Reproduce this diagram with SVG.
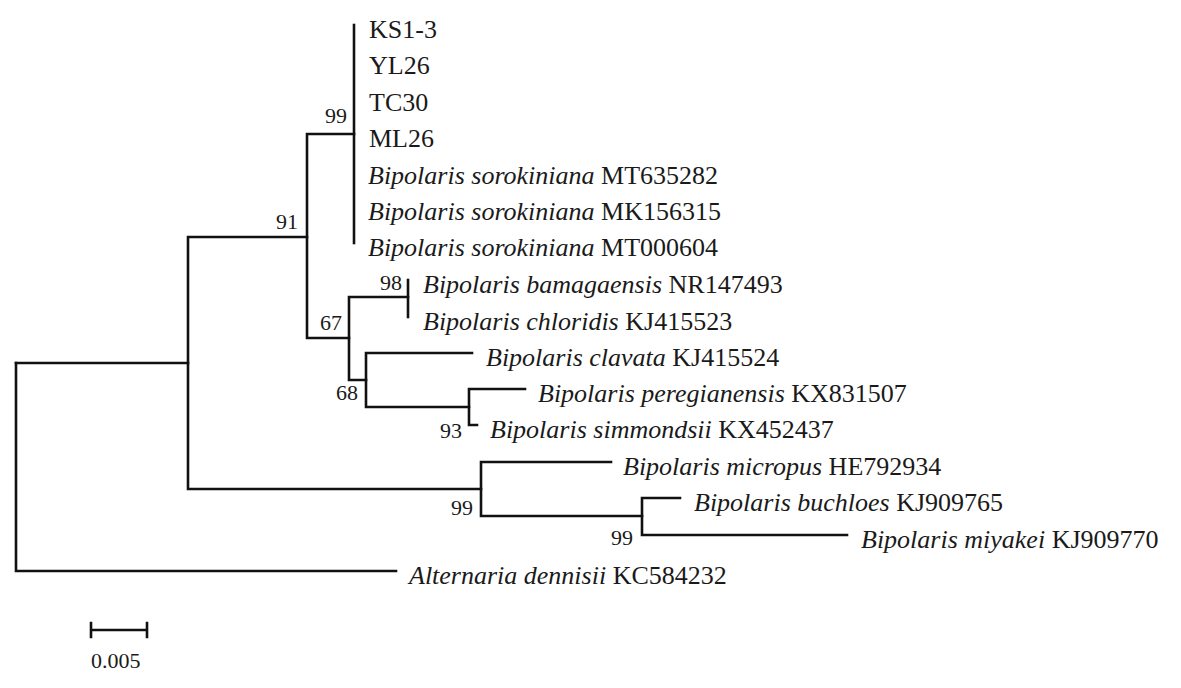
<svg xmlns="http://www.w3.org/2000/svg" width="1181" height="688" viewBox="0 0 1181 688">
<style>
.br{fill:none;stroke:#111;stroke-width:2.6;stroke-linejoin:miter;stroke-linecap:square}
.lb{font-size:26px;fill:#1a1a1a}
.sp{font-style:italic}
.bs{font-size:22px;fill:#1a1a1a;text-anchor:end}
</style>
<rect width="1181" height="688" fill="#fff"/>
<g id="connectors">
<path class="br" d="M16 363 V571 H396"/>
<path class="br" d="M16 363 H188"/>
<path class="br" d="M307 237 H188 V489 H481"/>
<path class="br" d="M354 134 H307 V338 H349"/>
<path class="br" d="M354 25 V243"/>
<path class="br" d="M408 297 H349 V380 H366"/>
<path class="br" d="M408 280 V317"/>
<path class="br" d="M472 353 H366 V407 H469"/>
<path class="br" d="M525 389 H469 V425 H477"/>
<path class="br" d="M611 462 H481 V516 H642"/>
<path class="br" d="M680 498 H642 V535 H847"/>
</g>
<g font-family="Liberation Serif, Times New Roman, serif">
<g id="bootstrap">
<text class="bs" x="347" y="123">99</text>
<text class="bs" x="298" y="229">91</text>
<text class="bs" x="342" y="330">67</text>
<text class="bs" x="402" y="290">98</text>
<text class="bs" x="358" y="400">68</text>
<text class="bs" x="462" y="438">93</text>
<text class="bs" x="473" y="515">99</text>
<text class="bs" x="633" y="545">99</text>
</g>
<g id="leaf-KS1-3"><text class="lb" x="369" y="38">KS1-3</text></g>
<g id="leaf-YL26"><text class="lb" x="369" y="74">YL26</text></g>
<g id="leaf-TC30"><text class="lb" x="369" y="111">TC30</text></g>
<g id="leaf-ML26"><text class="lb" x="369" y="147">ML26</text></g>
<g id="leaf-MT635282"><text class="lb" x="368" y="184"><tspan class="sp">Bipolaris sorokiniana</tspan> MT635282</text></g>
<g id="leaf-MK156315"><text class="lb" x="368" y="220"><tspan class="sp">Bipolaris sorokiniana</tspan> MK156315</text></g>
<g id="leaf-MT000604"><text class="lb" x="368" y="256"><tspan class="sp">Bipolaris sorokiniana</tspan> MT000604</text></g>
<g id="leaf-NR147493"><text class="lb" x="423" y="293"><tspan class="sp">Bipolaris bamagaensis</tspan> NR147493</text></g>
<g id="leaf-KJ415523"><text class="lb" x="423" y="330"><tspan class="sp">Bipolaris chloridis</tspan> KJ415523</text></g>
<g id="leaf-KJ415524"><text class="lb" x="486" y="366"><tspan class="sp">Bipolaris clavata</tspan> KJ415524</text></g>
<g id="leaf-KX831507"><text class="lb" x="538" y="402"><tspan class="sp">Bipolaris peregianensis</tspan> KX831507</text></g>
<g id="leaf-KX452437"><text class="lb" x="490" y="438"><tspan class="sp">Bipolaris simmondsii</tspan> KX452437</text></g>
<g id="leaf-HE792934"><text class="lb" x="623" y="475"><tspan class="sp">Bipolaris micropus</tspan> HE792934</text></g>
<g id="leaf-KJ909765"><text class="lb" x="694" y="511"><tspan class="sp">Bipolaris buchloes</tspan> KJ909765</text></g>
<g id="leaf-KJ909770"><text class="lb" x="861" y="548"><tspan class="sp">Bipolaris miyakei</tspan> KJ909770</text></g>
<g id="leaf-KC584232"><text class="lb" x="409" y="584"><tspan class="sp">Alternaria dennisii</tspan> KC584232</text></g>
<g id="scale-bar">
<path class="br" d="M91 630 H147 M91 623 V637 M147 623 V637"/>
<text class="bs" x="91" y="668" text-anchor="start" style="text-anchor:start">0.005</text>
</g>
</g>
</svg>
